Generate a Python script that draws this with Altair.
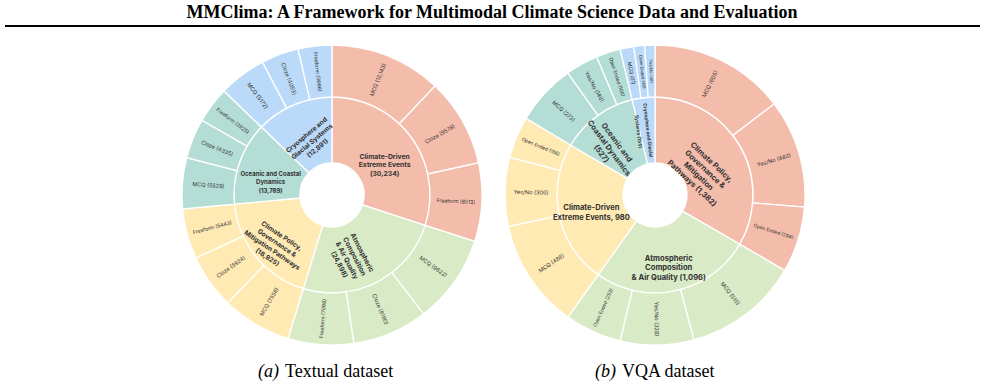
import math
import altair as alt
import pandas as pd

# ---------------- data ----------------
title_text = ["MMClima: A Framework for Multimodal Climate Science Data and Evaluation"]
caption_tags = ["(a)", "(b)"]
caption_names = ["Textual dataset", "VQA dataset"]

textual_groups = [
    "Climate-Driven Extreme Events",
    "Atmospheric Composition & Air Quality",
    "Climate Policy, Governance & Mitigation Pathways",
    "Oceanic and Coastal Dynamics",
    "Cryosphere and Glacial Systems",
]
textual_group_labels = [
    "Climate-Driven\nExtreme Events\n(30,234)",
    "Atmospheric\nComposition\n& Air Quality\n(24,898)",
    "Climate Policy,\nGovernance &\nMitigation Pathways\n(18,925)",
    "Oceanic and Coastal\nDynamics\n(13,789)",
    "Cryosphere and\nGlacial Systems\n(12,891)",
]
textual_group_values = [30234, 24898, 18925, 13789, 12891]
textual_leaf_names = [
    ["MCQ", "Cloze", "Freeform"],
    ["MCQ", "Cloze", "Freeform"],
    ["MCQ", "Cloze", "Freeform"],
    ["MCQ", "Cloze", "Freeform"],
    ["MCQ", "Cloze", "Freeform"],
]
textual_leaf_values = [
    [12143, 9578, 8513],
    [9622, 8180, 7096],
    [7558, 5924, 5443],
    [5529, 4335, 3925],
    [5172, 4053, 3666],
]

vqa_groups = [
    "Climate Policy, Governance & Mitigation Pathways",
    "Atmospheric Composition & Air Quality",
    "Climate-Driven Extreme Events",
    "Oceanic and Coastal Dynamics",
    "Cryosphere and Glacial Systems",
]
vqa_group_labels = [
    "Climate Policy,\nGovernance &\nMitigation\nPathways (1,382)",
    "Atmospheric\nComposition\n& Air Quality (1,096)",
    "Climate-Driven\nExtreme Events, 980",
    "Oceanic and\nCoastal Dynamics\n(527)",
    "Cryosphere and Glacial\nSystems (155)",
]
vqa_group_values = [1382, 1096, 980, 527, 155]
vqa_leaf_names = [
    ["MCQ", "Yes/No", "Open Ended"],
    ["MCQ", "Yes/No", "Open Ended"],
    ["MCQ", "Yes/No", "Open Ended"],
    ["MCQ", "Yes/No", "Open Ended"],
    ["MCQ", "Open Ended", "Yes/No"],
]
vqa_leaf_values = [
    [605, 483, 294],
    [515, 328, 253],
    [488, 306, 186],
    [273, 146, 108],
    [61, 48, 46],
]

# ---------------- style ----------------
ring_colors = ["#F3BCAB", "#D9EAC7", "#FFEAB3", "#B4DDD6", "#BBDAF9"]
textual_orient = ["h", "r", "t", "h", "t"]
vqa_orient = ["t", "h", "h", "r", "r"]
textual_inner_fs = [6.8, 6.8, 6.6, 6.0, 6.6]
vqa_inner_fs = [7.6, 7.6, 7.6, 7.6, 4.8]
HOLE, MID, OUT = 32, 98, 150
FONT = "Inter"
TEXT_COLOR = "#333333"


def fmt(v):
    return f"{v:,}" if v >= 10000 else str(v)


def rot_for(deg, orient):
    if orient == "h":
        r = 0.0
    elif orient == "r":
        r = deg - 90
        if r > 90:
            r -= 180
    else:  # tangential
        r = deg % 180
        if r > 90:
            r -= 180
        r -= 17
    return r % 360


def build(groups, glabels, gvals, leaf_names, leaf_vals, orient, inner_fs):
    total = float(sum(gvals))
    inner, outer = [], []
    start = 0.0
    for i, (g, lab, v) in enumerate(zip(groups, glabels, gvals)):
        frac = v / total
        end = start + frac
        mid = (start + end) / 2
        inner.append(dict(rank=i, name=g, label=lab, start=start, end=end, mid=mid,
                          rot=rot_for(mid * 360, orient[i]), fs=inner_fs[i]))
        lsum = float(sum(leaf_vals[i]))
        ls = start
        for n, lv in zip(leaf_names[i], leaf_vals[i]):
            le = ls + frac * lv / lsum
            lm = (ls + le) / 2
            text = f"{n} ({fmt(lv)})"
            span = (le - ls) * 2 * math.pi * 124
            fs = min(5.5, 46 / (0.6 * len(text)), max(4.2, 0.45 * span))
            outer.append(dict(rank=i, name=n, label=text, start=ls, end=le, mid=lm,
                              rot=rot_for(lm * 360, "r"), fs=fs))
            ls = le
        start = end
    return pd.DataFrame(inner), pd.DataFrame(outer)


theta_scale = alt.Scale(domain=[0, 1], range=[0, 2 * math.pi])
color_enc = alt.Color("rank:N", scale=alt.Scale(domain=[0, 1, 2, 3, 4], range=ring_colors), legend=None)


def sunburst(inner_df, outer_df, cx, cy, line_h):
    base_xy = dict(x=alt.value(cx), y=alt.value(cy))
    inner_arc = alt.Chart(inner_df).mark_arc(innerRadius=HOLE, outerRadius=MID, stroke="white", strokeWidth=1.3).encode(
        theta=alt.Theta("start:Q", scale=theta_scale), theta2="end:Q", color=color_enc, **base_xy)
    outer_arc = alt.Chart(outer_df).mark_arc(innerRadius=MID, outerRadius=OUT, stroke="white", strokeWidth=1.3).encode(
        theta=alt.Theta("start:Q", scale=theta_scale), theta2="end:Q", color=color_enc, **base_xy)
    inner_txt = alt.Chart(inner_df).mark_text(radius=(HOLE + MID) / 2, font=FONT, fontWeight="bold", lineBreak="\n",
                                              align="center", baseline="middle", color=TEXT_COLOR,
                                              lineHeight=line_h).encode(
        theta=alt.Theta("mid:Q", scale=theta_scale, stack=False), text="label:N",
        angle=alt.Angle("rot:Q", scale=None), size=alt.Size("fs:Q", scale=None), **base_xy)
    outer_txt = alt.Chart(outer_df).mark_text(radius=124, font=FONT, align="center", baseline="middle",
                                              color=TEXT_COLOR).encode(
        theta=alt.Theta("mid:Q", scale=theta_scale, stack=False), text="label:N",
        angle=alt.Angle("rot:Q", scale=None), size=alt.Size("fs:Q", scale=None), **base_xy)
    return [inner_arc, outer_arc, inner_txt, outer_txt]


ti, to = build(textual_groups, textual_group_labels, textual_group_values, textual_leaf_names,
               textual_leaf_values, textual_orient, textual_inner_fs)
vi, vo = build(vqa_groups, vqa_group_labels, vqa_group_values, vqa_leaf_names,
               vqa_leaf_values, vqa_orient, vqa_inner_fs)

title_df = pd.DataFrame({"t": title_text})
title = alt.Chart(title_df).mark_text(font="Liberation Serif", fontWeight="bold", fontSize=18,
                                      align="center", baseline="middle", color="black").encode(
    x=alt.value(492), y=alt.value(13), text="t:N")
rule = alt.Chart(title_df).mark_rule(strokeWidth=2, color="black").encode(
    x=alt.value(5), x2=alt.value(980), y=alt.value(26))

cap_layers = []
for tag, name, x0 in zip(caption_tags, caption_names, [258, 595]):
    d = pd.DataFrame({"tag": [tag], "name": [name]})
    cap_layers.append(alt.Chart(d).mark_text(font="Liberation Serif", fontStyle="italic", fontSize=18,
                                             align="left", baseline="middle", color="black").encode(
        x=alt.value(x0), y=alt.value(372), text="tag:N"))
    cap_layers.append(alt.Chart(d).mark_text(font="Liberation Serif", fontSize=18,
                                             align="left", baseline="middle", color="black").encode(
        x=alt.value(x0 + 27), y=alt.value(372), text="name:N"))

layers = [title, rule] + sunburst(ti, to, 332, 195, 8.6) + sunburst(vi, vo, 655, 195, 9.6) + cap_layers

chart = alt.layer(*layers).properties(
    width=985, height=388, padding=0, autosize=alt.AutoSizeParams(type="none"), background="white"
).configure_view(stroke=None)

chart.save("out.html", embed_options={"renderer": "svg", "actions": False})
